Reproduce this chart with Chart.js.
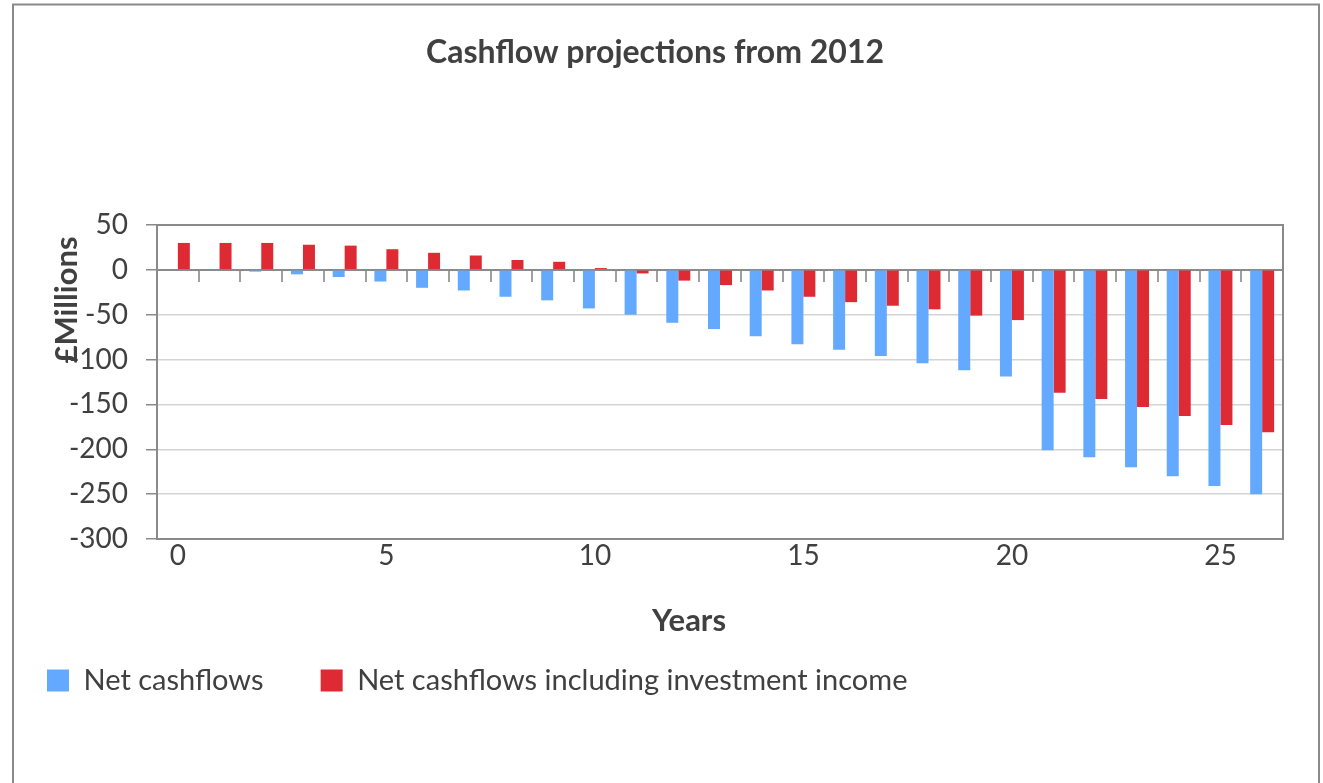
<!DOCTYPE html>
<html>
<head>
<meta charset="utf-8">
<title>Cashflow projections from 2012</title>
<script src="https://cdn.jsdelivr.net/npm/chart.js@4.4.1/dist/chart.umd.min.js"></script>
<style>
  html, body { margin: 0; padding: 0; background: #ffffff; overflow: hidden; }
  #wrap { width: 1323px; height: 783px; }
</style>
</head>
<body>
<div id="wrap"><canvas id="chart" width="1323" height="783"></canvas></div>
<script>
// Projection years (categories)
const years = ['0','1','2','3','4','5','6','7','8','9','10','11','12','13',
               '14','15','16','17','18','19','20','21','22','23','24','25','26'];

// Year labels printed under the axis
const yearTickLabels = ['0','5','10','15','20','25'];

// £ millions per year
const netCashflows = [0, -1, -2, -5, -8, -13, -20, -23, -30, -34, -43, -50, -59, -66,
                      -74, -83, -89, -96, -104, -112, -119, -201, -209, -220, -230, -241, -250];

const netWithInvestmentIncome = [30, 30, 30, 28, 27, 23, 19, 16, 11, 9, 2, -4, -12, -17,
                                 -23, -30, -36, -40, -44, -51, -56, -137, -144, -153, -163, -173, -181];

// Value axis ticks
const valueTicks = [50, 0, -50, -100, -150, -200, -250, -300];

const TEXT = '#404040';
const AXIS = '#8a8a8a';
const FONT = 'Lato, "Open Sans", sans-serif';
const CAPTION_FONT = 'bold 31px Lato, "Open Sans", sans-serif';

// White page with the outer chart frame
const framePlugin = {
  id: 'frame',
  beforeDraw(chart) {
    const ctx = chart.ctx;
    ctx.save();
    ctx.fillStyle = '#ffffff';
    ctx.fillRect(0, 0, chart.width, chart.height);
    ctx.strokeStyle = AXIS;
    ctx.lineWidth = 2;
    ctx.beginPath();
    ctx.moveTo(13, chart.height + 5);
    ctx.lineTo(13, 4.5);
    ctx.lineTo(chart.width - 4, 4.5);
    ctx.lineTo(chart.width - 4, chart.height + 5);
    ctx.stroke();
    ctx.restore();
  }
};

// Border around the plot area
const plotBorderPlugin = {
  id: 'plotBorder',
  beforeDatasetsDraw(chart) {
    const {ctx, chartArea: a} = chart;
    ctx.save();
    ctx.strokeStyle = AXIS;
    ctx.lineWidth = 2;
    ctx.strokeRect(a.left, a.top, a.right - a.left, a.bottom - a.top);
    ctx.restore();
  }
};

// Axis captions placed relative to the plot area
const axisCaptionPlugin = {
  id: 'axisCaptions',
  afterDraw(chart, args, opts) {
    const {ctx, chartArea: a} = chart;
    opts.items.forEach(item => {
      ctx.save();
      ctx.translate(a.left + item.dx, (item.fromBottom ? a.bottom : a.top) + item.dy);
      ctx.rotate(item.rotation || 0);
      ctx.font = opts.font;
      ctx.fillStyle = opts.color;
      ctx.textAlign = 'center';
      ctx.textBaseline = 'middle';
      ctx.fillText(item.text, 0, 0);
      ctx.restore();
    });
  }
};

new Chart(document.getElementById('chart'), {
  type: 'bar',
  data: {
    labels: years,
    datasets: [
      {
        label: 'Net cashflows     ',
        data: netCashflows,
        backgroundColor: '#63a9ff',
        barPercentage: 1,
        categoryPercentage: 0.575
      },
      {
        label: 'Net cashflows including investment income',
        data: netWithInvestmentIncome,
        backgroundColor: '#de2b33',
        barPercentage: 1,
        categoryPercentage: 0.575
      }
    ]
  },
  options: {
    responsive: false,
    animation: false,
    devicePixelRatio: 1,
    layout: { padding: { top: 8, left: 27, right: 40, bottom: 78 } },
    plugins: {
      tooltip: { enabled: false },
      title: {
        display: true,
        text: 'Cashflow projections from 2012',
        color: TEXT,
        font: { family: FONT, size: 32, weight: 'bold' },
        padding: { top: 25.8, bottom: 152.8 }
      },
      legend: {
        display: true,
        position: 'bottom',
        align: 'start',
        labels: {
          color: TEXT,
          font: { family: FONT, size: 29 },
          boxWidth: 22,
          boxHeight: 22,
          padding: 20
        }
      },
      axisCaptions: {
        font: CAPTION_FONT,
        color: TEXT,
        items: [
          { text: '£Millions', dx: -90, dy: 75, rotation: -Math.PI / 2 },
          { text: 'Years', dx: 532, dy: 82, fromBottom: true }
        ]
      }
    },
    scales: {
      x: {
        type: 'category',
        position: 'bottom',
        afterFit(scale) { scale.height = 107; },
        grid: { display: false, drawTicks: false },
        border: { display: false },
        ticks: {
          autoSkip: false,
          maxRotation: 0,
          padding: 0,
          color: TEXT,
          font: { family: FONT, size: 28 },
          callback(value, index) {
            const lbl = years[index];
            return yearTickLabels.includes(lbl) ? lbl : '';
          }
        }
      },
      // horizontal axis line drawn through zero, with category tick marks
      xZero: {
        type: 'category',
        position: { y: 0 },
        offset: true,
        grid: {
          offset: true,
          drawOnChartArea: false,
          drawTicks: true,
          tickLength: 11,
          color: '#a0a0a0',
          lineWidth: 2
        },
        border: { display: true, color: AXIS, width: 2 },
        ticks: { display: false }
      },
      y: {
        min: -300,
        max: 50,
        afterFit(scale) { scale.width = 130; },
        afterBuildTicks(scale) {
          scale.ticks = valueTicks.map(v => ({ value: v }));
        },
        grid: {
          color: '#d4d4d4',
          lineWidth: 1.5,
          tickColor: AXIS,
          tickLength: 11
        },
        border: { display: true, color: AXIS, width: 2 },
        ticks: {
          padding: 18,
          color: TEXT,
          font: { family: FONT, size: 28 }
        }
      }
    }
  },
  plugins: [framePlugin, plotBorderPlugin, axisCaptionPlugin]
});
</script>
</body>
</html>
